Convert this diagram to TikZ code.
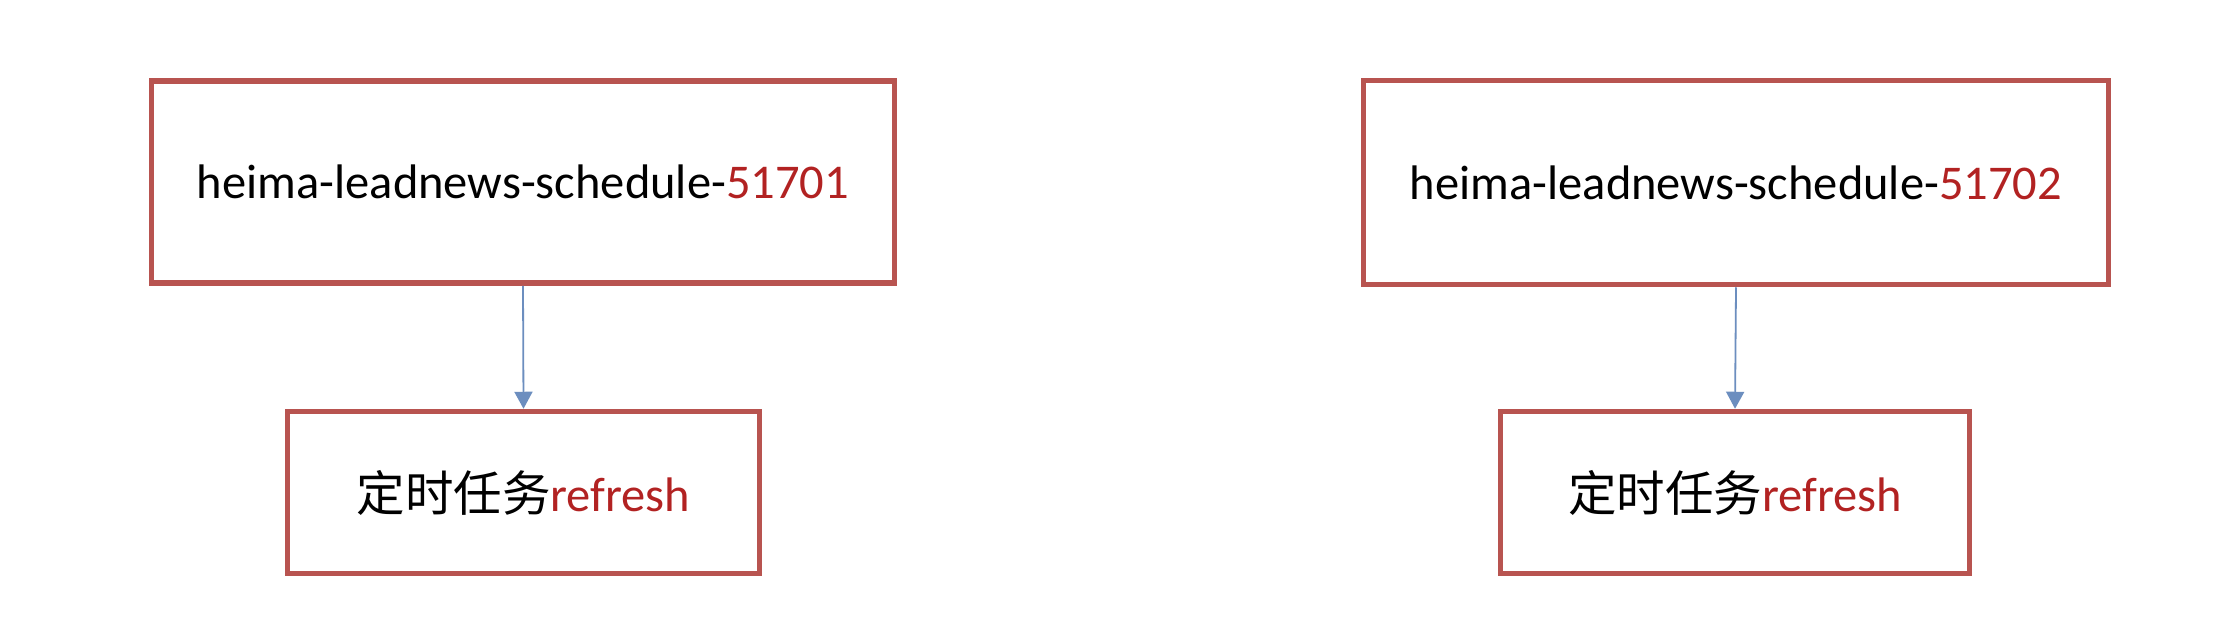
\documentclass[tikz,border=0pt]{standalone}
\usepackage{fontspec}
\setmainfont{Carlito}
\newfontfamily\cjk{Noto Sans CJK SC}
\usetikzlibrary{arrows.meta}
\definecolor{boxred}{RGB}{184,84,80}
\definecolor{txtred}{RGB}{178,34,34}
\definecolor{arrblue}{RGB}{108,142,191}
\tikzset{
  box/.style={draw=boxred, line width=5.5pt, fill=white, inner sep=0pt,
    font=\fontsize{48.5}{58}\selectfont},
  conn/.style={draw=arrblue, line width=1.8pt, -{Triangle[length=17pt,width=18pt]}}
}
\begin{document}
\begin{tikzpicture}[x=1pt,y=-1pt]
\useasboundingbox (0,0) rectangle (2226,624);
\fill[white] (0,0) rectangle (2226,624);
\node[box, minimum width=743pt, minimum height=202pt] (s1) at (523,182)
  {heima-leadnews-schedule-\textcolor{txtred}{51701}};
\node[box, minimum width=472pt, minimum height=162pt] (t1) at (523.5,492.5)
  {{\cjk 定时任务}\textcolor{txtred}{refresh}};
\node[box, minimum width=745pt, minimum height=204pt] (s2) at (1736,182.5)
  {heima-leadnews-schedule-\textcolor{txtred}{51702}};
\node[box, minimum width=469pt, minimum height=162pt] (t2) at (1735,492.5)
  {{\cjk 定时任务}\textcolor{txtred}{refresh}};
\draw[conn] (s1.south) -- (t1.north);
\draw[conn] (s2.south) -- (t2.north);
\end{tikzpicture}
\end{document}
